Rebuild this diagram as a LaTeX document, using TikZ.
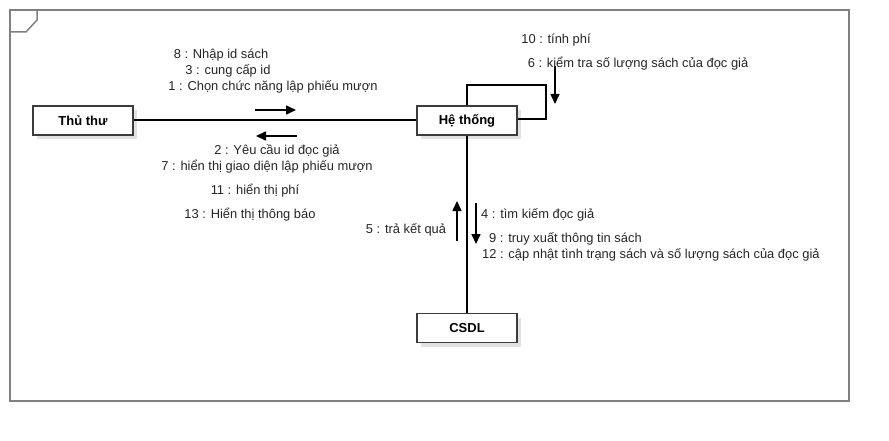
\documentclass[tikz,border=0pt]{standalone}
\usepackage{fontspec}
\setmainfont{Liberation Sans}
\usetikzlibrary{arrows.meta,shadows}
\definecolor{framegray}{RGB}{128,128,128}
\definecolor{boxline}{RGB}{60,60,60}
\definecolor{shadowgray}{RGB}{225,225,225}
\begin{document}
\begin{tikzpicture}[x=1pt,y=-1pt,
  obj/.style={draw=boxline,line width=1.3pt,fill=white,minimum width=100pt,minimum height=29pt,inner sep=0pt,
    font=\fontsize{13}{15}\selectfont\bfseries,
    drop shadow={shadow xshift=4pt,shadow yshift=-4pt,fill=shadowgray,opacity=1}},
  link/.style={line width=2pt,black},
  msg/.style={line width=1.6pt,-{Triangle[length=10pt,width=9pt]}},
  lbl/.style={font=\fontsize{12.9}{15}\selectfont,inner sep=0pt,anchor=center,text=black!85}]
\useasboundingbox (0,0) rectangle (889,441);
\fill[white] (0,0) rectangle (889,441);
% frame
\draw[framegray,line width=2pt] (10,10) rectangle (849,401);
\draw[framegray,line width=1.5pt] (10,32) -- (26,32) -- (37,20) -- (37,10);
% objects
\node[obj] (tt) at (83,120.5) {Thủ thư};
\node[obj] (ht) at (467,120.5) {Hệ thống};
\node[obj] (db) at (467,328) {CSDL};
% links
\draw[link] (tt.east) -- (ht.west);
\draw[link] (ht.south) -- (db.north);
\coordinate (l1) at (467,85);
\coordinate (l2) at (546,85);
\coordinate (l3) at (546,119);
\draw[link] (ht.north) -- (l1) -- (l2) -- (l3) -- (ht.east |- l3);
% message arrows
\coordinate (a1s) at (255,110); \coordinate (a1e) at (296,110);
\draw[msg] (a1s) -- (a1e);
\coordinate (a2s) at (297,136); \coordinate (a2e) at (256,136);
\draw[msg] (a2s) -- (a2e);
\coordinate (a3s) at (555,66); \coordinate (a3e) at (555,104);
\draw[msg] (a3s) -- (a3e);
\coordinate (a4s) at (457,241); \coordinate (a4e) at (457,201);
\draw[msg] (a4s) -- (a4e);
\coordinate (a5s) at (476,203); \coordinate (a5e) at (476,244);
\draw[msg] (a5s) -- (a5e);
% labels
\node[lbl] (m8) at (221,55) {8 : Nhập id sách};
\node[lbl] (m3) at (228,71) {3 : cung cấp id};
\node[lbl] (m1) at (273,87) {1 : Chọn chức năng lập phiếu mượn};
\node[lbl] (m2) at (277,151) {2 : Yêu cầu id đọc giả};
\node[lbl] (m7) at (267,167) {7 : hiển thị giao diện lập phiếu mượn};
\node[lbl] (m11) at (255,191) {11 : hiển thị phí};
\node[lbl] (m13) at (250,215) {13 : Hiển thị thông báo};
\node[lbl] (m10) at (556,40) {10 : tính phí};
\node[lbl] (m6) at (638,64) {6 : kiểm tra số lượng sách của đọc giả};
\node[lbl] (m5) at (406,230) {5 : trả kết quả};
\node[lbl,anchor=west] (m4) at (481,215) {4 : tìm kiếm đọc giả};
\node[lbl,anchor=west] (m9) at (489,239) {9 : truy xuất thông tin sách};
\node[lbl,anchor=west] (m12) at (482,255) {12 : cập nhật tình trạng sách và số lượng sách của đọc giả};
\end{tikzpicture}
\end{document}
